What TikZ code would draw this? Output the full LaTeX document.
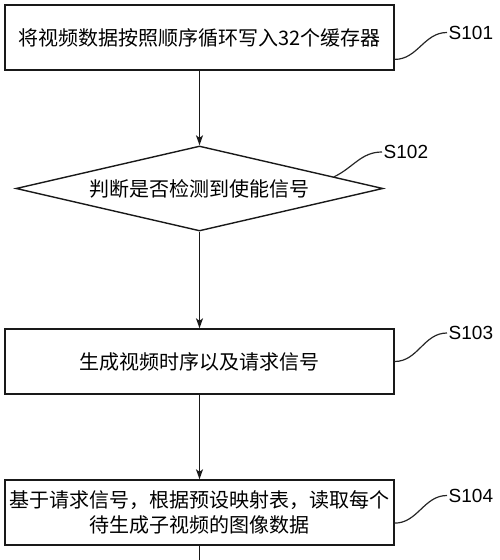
\documentclass[tikz,border=0pt]{standalone}
\usepackage{fontspec}
\setmainfont{Liberation Sans}
\newfontfamily\cjkfont{Noto Sans CJK SC}
\usepackage{tikz}
\usetikzlibrary{calc, arrows.meta, positioning, shapes.geometric}
\definecolor{mainBlack}{gray}{0.1}
\definecolor{leadGray}{gray}{0.15}

\begin{document}
\begin{tikzpicture}[x=1pt, y=1pt,
    stepbox/.style={draw=mainBlack, line width=1.4pt, minimum width=389pt, minimum height=65pt,
        inner sep=2pt, align=center, font=\cjkfont\fontsize{20pt}{25pt}\selectfont},
    decision/.style={diamond, draw=mainBlack, line width=1.4pt, aspect=4.3, minimum width=367pt,
        minimum height=85pt, inner sep=0pt, font=\cjkfont\fontsize{20pt}{25pt}\selectfont},
    steplabel/.style={anchor=west, inner sep=1.5pt, font=\fontsize{19pt}{22pt}\selectfont},
    flow/.style={-{Stealth[length=10pt, width=7pt, inset=2.5pt]}, line width=1.3pt, mainBlack},
    leader/.style={line width=1.2pt, leadGray}]
    \useasboundingbox (0,0) rectangle (500,560);

    \node[stepbox] (s1) at (199.5,522.5) {将视频数据按照顺序循环写入32个缓存器};
    \node[steplabel] (l1) at (447,527.5) {S101};

    \node[decision] (s2) at (199.5,371.5) {判断是否检测到使能信号};
    \node[steplabel] (l2) at (382,408) {S102};

    \node[stepbox] (s3) at (199.5,198.5) {生成视频时序以及请求信号};
    \node[steplabel] (l3) at (447,227) {S103};

    \node[stepbox] (s4) at (199.5,47.5) {基于请求信号，根据预设映射表，读取每个\\待生成子视频的图像数据};
    \node[steplabel] (l4) at (447,64.5) {S104};
    \coordinate (next) at (199.5,0);

    % Arrows
    \draw[flow] (s1) -- (s2);
    \draw[flow] (s2) -- (s3);
    \draw[flow] (s3) -- (s4);
    \draw[line width=1.3pt, mainBlack] (s4) -- (next);

    % Step labels
    \draw[leader] ($(s1.south east)!0.17!(s1.north east)$) to[out=0, in=180] (l1.west);
    \draw[leader] ($(s2.east)!0.27!(s2.north)$) to[out=25, in=180] (l2.west);
    \draw[leader] (s3.east) to[out=0, in=180] (l3.west);
    \draw[leader] ($(s4.south east)!0.34!(s4.north east)$) to[out=0, in=180] (l4.west);
\end{tikzpicture}
\end{document}
